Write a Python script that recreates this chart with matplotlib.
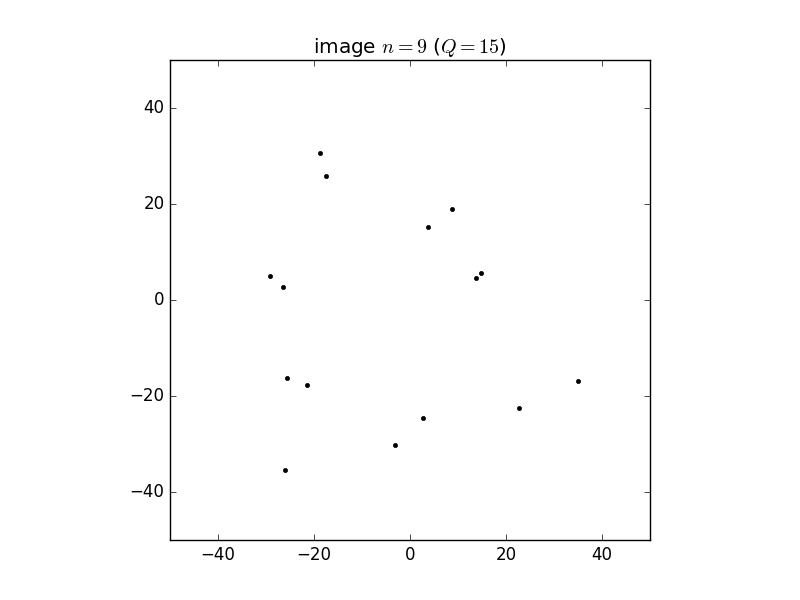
import matplotlib
matplotlib.use('Agg')
import matplotlib.pyplot as plt

plt.style.use('classic')

# posiciones de las fuentes
x = [-18.75, -17.5, 8.75, 3.75, -29.2, -26.5, 13.75, 14.8,
     -25.6, -21.5, 35.0, 22.7, 2.7, -3.1, -26.0]
y = [30.6, 25.8, 19.0, 15.2, 5.0, 2.7, 4.6, 5.6,
     -16.25, -17.7, -16.9, -22.5, -24.6, -30.2, -35.4]

fig = plt.figure(figsize=(8, 6), dpi=100)
ax = fig.add_subplot(111)
ax.plot(x, y, 'k.')
ax.set_xlim(-50, 50)
ax.set_ylim(-50, 50)
ax.set_xticks([-40, -20, 0, 20, 40])
ax.set_yticks([-40, -20, 0, 20, 40])
ax.set_aspect('equal')
ax.set_title(r'image $n=9$ ($Q=15$)')

fig.savefig('out.png', dpi=100, facecolor='white')
